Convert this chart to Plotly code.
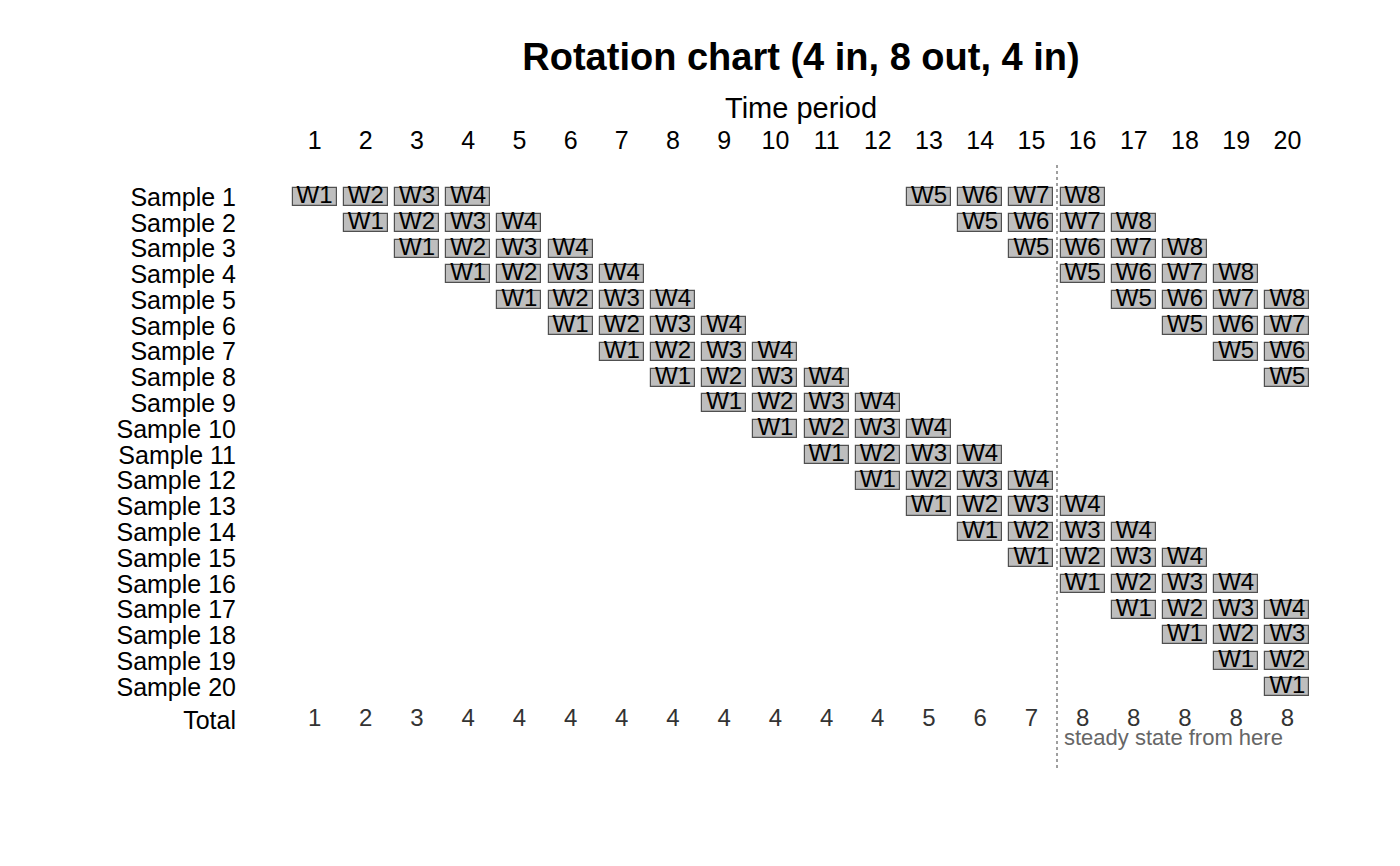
import plotly.graph_objects as go

# ---- data ----
periods = [1, 2, 3, 4, 5, 6, 7, 8, 9, 10, 11, 12, 13, 14, 15, 16, 17, 18, 19, 20]
sample_labels = ["Sample 1", "Sample 2", "Sample 3", "Sample 4", "Sample 5",
                 "Sample 6", "Sample 7", "Sample 8", "Sample 9", "Sample 10",
                 "Sample 11", "Sample 12", "Sample 13", "Sample 14", "Sample 15",
                 "Sample 16", "Sample 17", "Sample 18", "Sample 19", "Sample 20"]
start_period = [1, 2, 3, 4, 5, 6, 7, 8, 9, 10, 11, 12, 13, 14, 15, 16, 17, 18, 19, 20]
wave_labels = ["W1", "W2", "W3", "W4", "W5", "W6", "W7", "W8"]
wave_offset = [0, 1, 2, 3, 12, 13, 14, 15]   # 4 in, 8 out, 4 in
totals = [1, 2, 3, 4, 4, 4, 4, 4, 4, 4, 4, 4, 5, 6, 7, 8, 8, 8, 8, 8]
steady_from = 16
n_periods = 20

# ---- build cells ----
cell_x, cell_y, cell_t = [], [], []
for i, s in enumerate(start_period):
    for w, off in zip(wave_labels, wave_offset):
        p = s + off
        if p <= n_periods:
            cell_x.append(p)
            cell_y.append(i + 1)
            cell_t.append(w)

FONT = "Liberation Sans, Arial, Helvetica, sans-serif"
CELL_W = 0.86
CELL_H = 0.70
TOTAL_Y = 21.28
OFF = 8  # page body margin compensation

fig = go.Figure()
fig.add_trace(go.Bar(
    orientation="h",
    y=cell_y,
    x=[CELL_W] * len(cell_x),
    base=[p - CELL_W / 2 for p in cell_x],
    width=CELL_H,
    marker=dict(color="#BEBEBE", line=dict(color="#505050", width=1.2)),
    hoverinfo="skip",
    showlegend=False,
))
fig.add_trace(go.Scatter(
    x=cell_x, y=cell_y, text=cell_t, mode="text",
    textfont=dict(family=FONT, size=24, color="#000000"),
    textposition="middle center",
    hoverinfo="skip", showlegend=False,
))
fig.add_trace(go.Scatter(
    x=periods, y=[TOTAL_Y] * len(periods), text=[str(t) for t in totals],
    mode="text",
    textfont=dict(family=FONT, size=24, color="#333333"),
    textposition="middle center",
    hoverinfo="skip", showlegend=False,
))

fig.add_shape(type="line", xref="x", yref="paper",
              x0=steady_from - 0.5, x1=steady_from - 0.5, y0=0, y1=1,
              line=dict(color="#888888", width=1.6, dash="dot"))
fig.add_annotation(x=steady_from - 0.5, y=21.94, xref="x", yref="y",
                   text="steady state from here", showarrow=False,
                   xanchor="left", yanchor="middle", xshift=5,
                   font=dict(family=FONT, size=22, color="#666666"))
# x-axis title (placed above the top tick labels)
fig.add_annotation(x=0.5, y=1, xref="paper", yref="paper",
                   text="Time period", showarrow=False,
                   xanchor="center", yanchor="middle", yshift=55,
                   font=dict(family=FONT, size=29, color="#000000"))

fig.update_layout(
    width=1400, height=866,
    paper_bgcolor="white", plot_bgcolor="white",
    margin=dict(l=289 - OFF, r=87 + OFF, t=163 - OFF, b=98 + OFF),
    font=dict(family=FONT, color="#000000"),
    title=dict(text="<b>Rotation chart (4 in, 8 out, 4 in)</b>",
               x=0.5, xref="paper", xanchor="center",
               y=1 - (57 - OFF) / 866, yref="container", yanchor="middle",
               font=dict(family=FONT, size=38, color="#000000")),
    bargap=0,
)
fig.update_xaxes(
    range=[0.5, 20.5], side="top",
    tickmode="array", tickvals=periods, ticktext=[str(p) for p in periods],
    tickfont=dict(family=FONT, size=25, color="#000000"),
    ticks="", showgrid=False, zeroline=False, showline=False,
    ticklabelstandoff=8,
)
fig.update_yaxes(
    range=[23.14, -0.318],
    tickmode="array",
    tickvals=list(range(1, 21)) + [TOTAL_Y],
    ticktext=sample_labels + ["Total"],
    tickfont=dict(family=FONT, size=25, color="#000000"),
    ticks="", showgrid=False, zeroline=False, showline=False,
    ticklabelstandoff=52,
)

fig.write_html("out.html")
